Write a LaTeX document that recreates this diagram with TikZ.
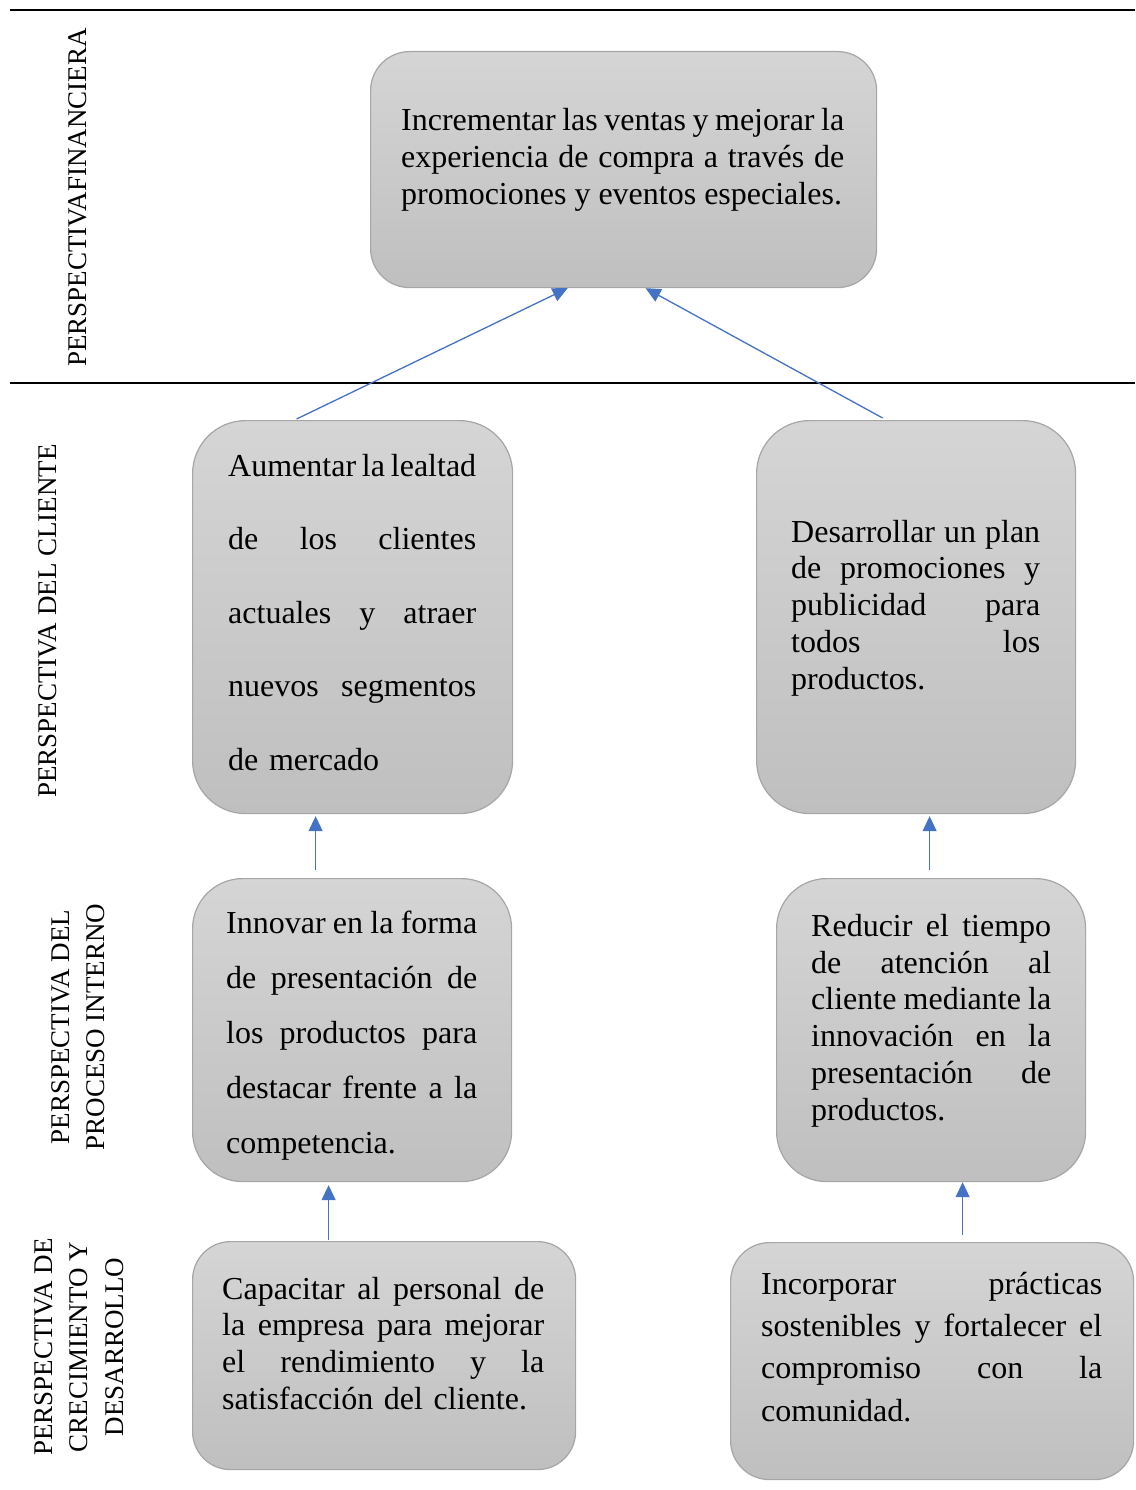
\documentclass[tikz,border=0pt]{standalone}
\usepackage{fontspec}
\setmainfont{Liberation Serif}
\usetikzlibrary{arrows.meta,calc}
\definecolor{arrblue}{HTML}{4472C4}
\definecolor{boxtop}{HTML}{D5D5D5}
\definecolor{boxbot}{HTML}{BFBFBF}
\definecolor{boxline}{HTML}{A6A6A6}
\newcommand\jl[2]{\makebox[#1][s]{\spaceskip=0.25em plus 1fil minus 0.2em\relax #2}}
\newcommand\lastln[2]{\makebox[#1][s]{\spaceskip=0.25em minus 0.2em\relax #2\hfill}}
\begin{document}
\begin{tikzpicture}[x=1pt,y=1pt,
  box/.style={draw=boxline, line width=1.2pt, top color=boxtop, bottom color=boxbot, anchor=north west, inner sep=0pt},
  txt/.style={anchor=north west, inner sep=0pt, align=left, font=\fontsize{32}{37}\selectfont},
  lbl/.style={rotate=90, inner sep=0pt, align=center, font=\fontsize{27}{35.5}\selectfont},
  arr/.style={draw=arrblue, line width=1.3pt, -{Triangle[length=15pt,width=14pt]}},
  sepline/.style={line width=2pt}]
\useasboundingbox (0,0) rectangle (1135,-1490);

% separator lines
\draw[sepline] (10,-10) -- (1135,-10);
\draw[sepline] (10,-383) -- (1135,-383);

% perspective labels
\node[lbl] (lfin) at (78,-197.5) {PERSPECTIVAFINANCIERA};
\node[lbl] (lcli) at (48,-621) {PERSPECTIVA DEL CLIENTE};
\node[lbl] (lpro) at (78,-1027) {PERSPECTIVA DEL\\PROCESO INTERNO};
\node[lbl] (lcre) at (79,-1347) {PERSPECTIVA DE\\CRECIMIENTO Y\\DESARROLLO};

% boxes
\node[box, minimum width=506pt, minimum height=236pt, rounded corners=39pt] (top) at (370,-51) {};
\node[box, minimum width=320pt, minimum height=393pt, rounded corners=53pt] (cl) at (192,-420) {};
\node[box, minimum width=319pt, minimum height=393pt, rounded corners=53pt] (cr) at (756,-420) {};
\node[box, minimum width=319pt, minimum height=303pt, rounded corners=50pt] (pl) at (192,-878) {};
\node[box, minimum width=309pt, minimum height=303pt, rounded corners=50pt] (pr) at (776,-878) {};
\node[box, minimum width=383pt, minimum height=228pt, rounded corners=38pt] (gl) at (192,-1241) {};
\node[box, minimum width=403pt, minimum height=237pt, rounded corners=39pt] (gr) at (730,-1242) {};

% texts
\node[txt, text width=443pt] (ttop) at ([shift={(31,-55)}]top.north west)
 {\jl{443pt}{\rule{0pt}{24pt}Incrementar las ventas y mejorar la}\\
  \jl{443pt}{experiencia de compra a través de}\\
  \lastln{443pt}{promociones y eventos especiales.}};
\node[txt, text width=248pt, font=\fontsize{32}{73.5}\selectfont] (tcl) at ([shift={(36,-32)}]cl.north west)
 {\jl{248pt}{\rule{0pt}{24pt}Aumentar la lealtad}\\
  \jl{248pt}{de los clientes}\\
  \jl{248pt}{actuales y atraer}\\
  \jl{248pt}{nuevos segmentos}\\
  de mercado};
\node[txt, text width=249pt, font=\fontsize{32}{36.75}\selectfont] (tcr) at ([shift={(35,-98)}]cr.north west)
 {\jl{249pt}{\rule{0pt}{24pt}Desarrollar un plan}\\
  \jl{249pt}{de promociones y}\\
  \jl{249pt}{publicidad para}\\
  \jl{249pt}{todos los}\\
  productos.};
\node[txt, text width=251pt, font=\fontsize{32}{55}\selectfont] (tpl) at ([shift={(34,-31)}]pl.north west)
 {\jl{251pt}{\rule{0pt}{24pt}Innovar en la forma}\\
  \jl{251pt}{de presentación de}\\
  \jl{251pt}{los productos para}\\
  \jl{251pt}{destacar frente a la}\\
  competencia.};
\node[txt, text width=240pt, font=\fontsize{32}{36.8}\selectfont] (tpr) at ([shift={(35,-34)}]pr.north west)
 {\jl{240pt}{\rule{0pt}{24pt}Reducir el tiempo}\\
  \jl{240pt}{de atención al}\\
  \jl{240pt}{cliente mediante la}\\
  \jl{240pt}{innovación en la}\\
  \jl{240pt}{presentación de}\\
  productos.};
\node[txt, text width=322pt, font=\fontsize{32}{36.7}\selectfont] (tgl) at ([shift={(30,-34)}]gl.north west)
 {\jl{322pt}{\rule{0pt}{24pt}Capacitar al personal de}\\
  \jl{322pt}{la empresa para mejorar}\\
  \jl{322pt}{el rendimiento y la}\\
  satisfacción del cliente.};
\node[txt, text width=341pt, font=\fontsize{32}{42.3}\selectfont] (tgr) at ([shift={(31,-28)}]gr.north west)
 {\jl{341pt}{\rule{0pt}{24pt}Incorporar prácticas}\\
  \jl{341pt}{sostenibles y fortalecer el}\\
  \jl{341pt}{compromiso con la}\\
  comunidad.};

% connectors
\draw[arr] ([shift={(-56,1)}]cl.north) -- ([xshift=-56]top.south);
\draw[arr] ([shift={(-33.5,2)}]cr.north) -- ([xshift=22]top.south);
\draw[arr] ([shift={(-36.5,8)}]pl.north) -- ([shift={(-37,-2)}]cl.south);
\draw[arr] ([shift={(-1.5,8)}]pr.north) -- ([shift={(13.5,-2)}]cr.south);
\draw[arr] ([shift={(-55.5,1)}]gl.north) -- ([shift={(-23.5,-3)}]pl.south);
\draw[arr] ([shift={(30.5,7)}]gr.north) -- ([xshift=31.5]pr.south);
\end{tikzpicture}
\end{document}
